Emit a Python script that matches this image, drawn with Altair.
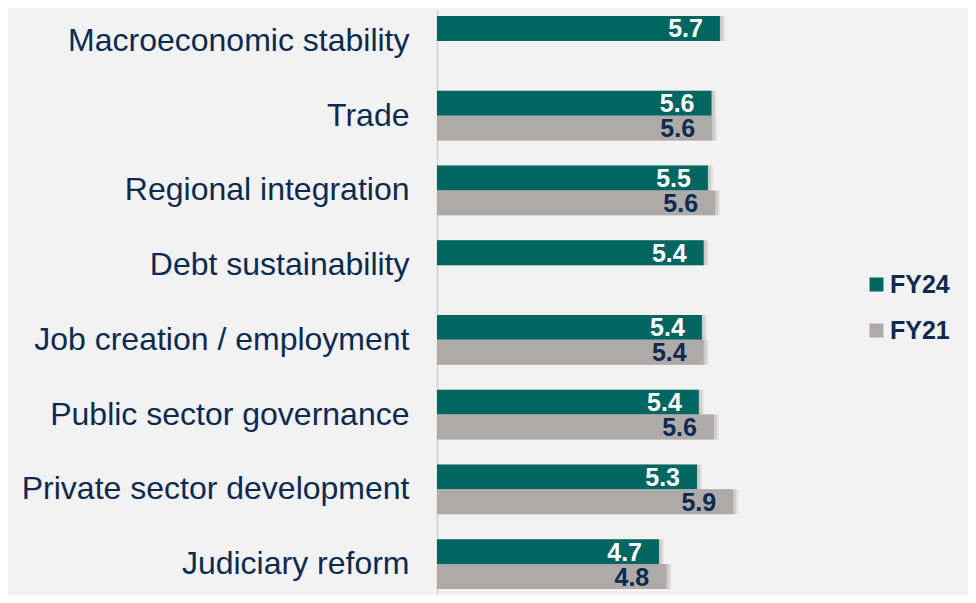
import altair as alt
import pandas as pd

categories = [
    "Macroeconomic stability",
    "Trade",
    "Regional integration",
    "Debt sustainability",
    "Job creation / employment",
    "Public sector governance",
    "Private sector development",
    "Judiciary reform",
]
# bar lengths; None = no bar
fy24_values = [5.69, 5.55, 5.49, 5.42, 5.39, 5.34, 5.31, 4.68]
fy21_values = [None, 5.56, 5.61, None, 5.42, 5.59, 5.91, 4.80]
# printed labels
fy24_labels = ["5.7", "5.6", "5.5", "5.4", "5.4", "5.4", "5.3", "4.7"]
fy21_labels = [None, "5.6", "5.6", None, "5.4", "5.6", "5.9", "4.8"]
series = ["FY24", "FY21"]

rows = []
for c, v, l in zip(categories, fy24_values, fy24_labels):
    rows.append({"cat": c, "series": "FY24", "value": v, "label": l})
for c, v, l in zip(categories, fy21_values, fy21_labels):
    if v is not None:
        rows.append({"cat": c, "series": "FY21", "value": v, "label": l})
df = pd.DataFrame(rows)

TEAL = "#00665F"
GRAY = "#AEAAAA"
NAVY = "#0D2A4F"
BG = "#F2F2F2"

y_enc = alt.Y("cat:N", sort=categories,
              scale=alt.Scale(paddingInner=1/3, paddingOuter=0.08),
              axis=alt.Axis(title=None, labelFontSize=32, labelColor=NAVY,
                            labelFont="Liberation Sans", labelPadding=28,
                            ticks=False, domainColor="#D9D9D9", domainWidth=2,
                            labelLimit=500))
yoff = alt.YOffset("series:N", sort=series,
                   scale=alt.Scale(domain=series, paddingInner=0, paddingOuter=0))
x_enc = alt.X("value:Q", scale=alt.Scale(domain=[1, 7], nice=False, zero=False),
              axis=None)

base = alt.Chart(df).encode(y=y_enc, yOffset=yoff, x=x_enc, x2=alt.datum(1))

shadow1 = base.mark_bar(color="#000000", opacity=0.10, xOffset=3, yOffset=3)
shadow2 = base.mark_bar(color="#000000", opacity=0.06, xOffset=5, yOffset=5)

bars = base.mark_bar().encode(
    color=alt.Color("series:N", sort=series,
                    scale=alt.Scale(domain=series, range=[TEAL, GRAY]),
                    legend=alt.Legend(title=None, orient="none", legendX=427, legendY=262,
                                      symbolType="square", symbolSize=196,
                                      symbolStrokeWidth=0, labelFontSize=25,
                                      labelFontWeight="bold", labelColor=NAVY,
                                      labelFont="Liberation Sans", labelOffset=1,
                                      rowPadding=20, padding=0))
)

labels = alt.Chart(df).mark_text(
    align="right", baseline="middle", dx=-17, dy=1, fontSize=25,
    fontWeight="bold", font="Liberation Sans"
).encode(
    y=alt.Y("cat:N", sort=categories), yOffset=alt.YOffset("series:N", sort=series),
    x=alt.X("value:Q"),
    text="label:N",
    color=alt.Color("series:N", sort=series,
                    scale=alt.Scale(domain=series, range=["#FFFFFF", NAVY]),
                    legend=None),
)

chart = alt.layer(shadow1, shadow2, bars, labels).resolve_scale(color="independent").properties(
    width=362, height=585,
    background=BG,
    padding={"left": 429, "top": 2, "right": 169, "bottom": 0},
    autosize=alt.AutoSizeParams(type="none"),
).configure_view(stroke=None)

chart.save("out.html", embed_options={"renderer": "svg", "actions": False})
